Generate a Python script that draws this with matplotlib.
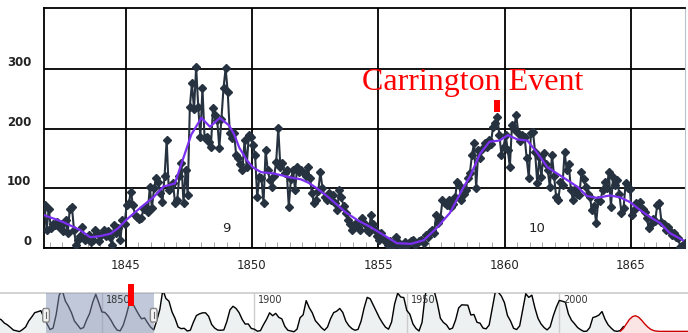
import numpy as np
import matplotlib.pyplot as plt
from matplotlib.patches import FancyBboxPatch

# monthly sunspot numbers, Oct 1841 .. Feb 1867
start_year = 1841
start_month = 10
monthly = (
    [72, 30, 66]
    + [33, 40, 38, 44, 35, 40, 28, 47, 25, 66, 69, 30]        # 1842
    + [5, 13, 20, 35, 13, 18, 22, 10, 14, 30, 25, 12]         # 1843
    + [22, 30, 20, 28, 18, 5, 38, 25, 34, 13, 47, 40]         # 1844
    + [72, 75, 94, 72, 55, 52, 48, 50, 66, 69, 60, 102]       # 1845
    + [67, 100, 117, 110, 92, 77, 120, 181, 97, 104, 109, 75]  # 1846
    + [80, 120, 142, 75, 130, 89, 236, 276, 232, 303, 236, 186]  # 1847
    + [268, 184, 186, 178, 169, 234, 223, 214, 168, 216, 268, 301]  # 1848
    + [261, 192, 184, 193, 156, 150, 140, 131, 181, 136, 189, 186]  # 1849
    + [172, 156, 85, 119, 117, 75, 164, 130, 114, 102, 120, 144]  # 1850
    + [201, 136, 142, 125, 130, 69, 115, 131, 97, 136, 128, 130]  # 1851
    + [125, 120, 135, 118, 92, 75, 80, 96, 127, 100, 85, 80]    # 1852
    + [92, 80, 88, 75, 64, 97, 85, 70, 59, 47, 40, 30]          # 1853
    + [38, 42, 36, 30, 50, 40, 30, 26, 55, 40, 30, 20]          # 1854
    + [13, 25, 15, 10, 5, 12, 2, 8, 18, 10, 4, 3]               # 1855
    + [10, 5, 8, 12, 13, 5, 8, 12, 14, 8, 22, 18]               # 1856
    + [27, 30, 25, 55, 42, 50, 80, 75, 72, 80, 69, 74]          # 1857
    + [85, 110, 105, 80, 90, 97, 117, 125, 156, 176, 100, 164]  # 1858
    + [150, 165, 176, 170, 181, 175, 203, 209, 220, 190, 156, 170]  # 1859
    + [189, 164, 136, 206, 200, 223, 193, 180, 189, 186, 150, 117]  # 1860
    + [193, 194, 160, 109, 152, 119, 159, 140, 130, 102, 156, 120]  # 1861
    + [85, 80, 110, 105, 161, 130, 140, 97, 80, 98, 90, 88]     # 1862
    + [127, 115, 102, 90, 85, 64, 70, 42, 80, 78, 97, 110]      # 1863
    + [100, 127, 69, 119, 105, 114, 90, 59, 67, 109, 100, 98]   # 1864
    + [55, 64, 75, 70, 77, 65, 60, 50, 33, 40, 48, 45]          # 1865
    + [72, 75, 44, 40, 30, 35, 28, 22, 25, 18, 16, 2]           # 1866
    + [5, 8]                                                    # 1867
)

# 13-month smoothed curve
smooth_years = [1841.77, 1842.5, 1843.2, 1843.6, 1844.0, 1844.4, 1844.7, 1845.05,
                1845.6, 1846.1, 1846.5, 1846.95, 1847.2, 1847.6, 1848.0, 1848.34,
                1848.73, 1849.1, 1849.3, 1849.5, 1849.8, 1850.04, 1850.36, 1850.83,
                1851.15, 1851.55, 1851.94, 1852.25, 1852.57, 1852.97, 1853.3, 1853.7,
                1854.2, 1854.7, 1855.2, 1855.74, 1856.3, 1856.8, 1857.3, 1857.84,
                1858.35, 1858.63, 1859.03, 1859.4, 1859.8, 1860.13, 1860.5, 1860.9,
                1861.28, 1861.7, 1862.07, 1862.47, 1862.9, 1863.26, 1863.65, 1864.17,
                1864.56, 1864.96, 1865.35, 1865.75, 1866.15, 1866.54, 1867.06]
smooth_vals = [55, 44, 30, 18, 20, 24, 33, 48,
               68, 85, 103, 108, 140, 190, 218, 203,
               218, 205, 190, 168, 147, 135, 127, 125,
               122, 118, 115, 109, 100, 87, 75, 60,
               46, 35, 22, 8, 7, 13, 33, 59,
               100, 120, 158, 178, 180, 189, 182, 180,
               160, 135, 125, 114, 102, 87, 84, 88,
               85, 77, 64, 52, 42, 25, 13]

cycle_labels = ['9', '10']
cycle_pos = [(1849.0, 33), (1861.3, 33)]
carrington_year = 1859.7
event_label = 'Carrington Event'

# yearly values for the navigator strip
nav_first_year = 1816
nav_yearly = [76, 68, 50, 40, 26, 11, 7, 3, 14, 28,
              61, 83, 107, 112, 118, 80, 46, 14, 22, 95,
              203, 231, 172, 143, 108, 61, 40, 18, 25, 67,
              103, 164, 208, 161, 111, 108, 90, 65, 34, 11,
              7, 38, 92, 157, 160, 129, 99, 73, 78, 51,
              27, 12, 63, 124, 232, 185, 170, 111, 75, 28,
              19, 21, 6, 10, 54, 91, 100, 106, 106, 87,
              42, 22, 11, 10, 12, 59, 122, 142, 130, 107,
              70, 44, 45, 20, 16, 5, 8, 41, 70, 106,
              90, 103, 81, 73, 31, 10, 6, 2, 16, 79,
              95, 173, 134, 106, 63, 44, 24, 10, 28, 74,
              107, 115, 130, 108, 60, 35, 19, 10, 15, 60,
              133, 191, 183, 148, 113, 79, 51, 27, 16, 55,
              155, 214, 193, 190, 119, 98, 45, 20, 6, 54,
              200, 269, 261, 225, 159, 76, 53, 40, 15, 22,
              67, 133, 150, 149, 148, 94, 97, 54, 49, 22,
              18, 39, 131, 220, 219, 198, 162, 91, 61, 21,
              14, 34, 123, 211, 191, 203, 133, 76, 45, 25,
              12, 29, 88, 136, 174, 170, 164, 99, 65, 46,
              25, 13, 4, 5, 25, 80, 85, 94, 113, 70,
              40, 22, 7, 4, 9, 30]
forecast_first_year = 2020
forecast = [5, 20, 45, 70, 85, 90, 82, 65, 45, 28, 15, 8, 5, 4, 4, 4, 4, 4, 4, 4, 4, 4, 4]
nav_ticks = [1850, 1900, 1950, 2000]
window = (1831.7, 1867.0)

# ---------------------------------------------------------------
plt.rcParams['font.family'] = ['DejaVu Sans']
fig = plt.figure(figsize=(6.88, 3.33), dpi=100)

W, H = 688.0, 333.0
ax = fig.add_axes([44 / W, 1 - 248 / H, (685 - 44) / W, 240 / H])

t = start_year + (start_month - 1 + np.arange(len(monthly)) + 0.5) / 12.0
ax.plot(t, monthly, color='#26323f', lw=1.5, marker='D', ms=3.8, zorder=3)
ax.plot(smooth_years, smooth_vals, color='#7b2ff0', lw=1.6, zorder=4)

ax.set_xlim(1841.77, 1867.14)
ax.set_ylim(0, 402)
ax.set_yticks([0, 100, 200, 300])
ax.set_xticks([1845, 1850, 1855, 1860, 1865])
ax.set_xticks(np.arange(1842, 1867.1, 0.5), minor=True)
ax.grid(True, which='major', color='black', lw=1.3)
ax.tick_params(axis='both', which='major', length=0, labelsize=8.5, colors='#222222')
ax.tick_params(axis='x', which='major', pad=8)
ax.tick_params(axis='y', which='major', pad=9)
ax.tick_params(axis='x', which='minor', direction='in', length=4, color='#999999')
for lab in ax.get_yticklabels():
    lab.set_verticalalignment('bottom')
    lab.set_fontweight('bold')
for side in ['left', 'top', 'bottom']:
    ax.spines[side].set_color('black')
    ax.spines[side].set_linewidth(1.3)
ax.spines['right'].set_color('#b8c2cc')

for lab, (cx, cy) in zip(cycle_labels, cycle_pos):
    ax.text(cx, cy, lab, ha='center', va='center', fontsize=9.5, color='#222222')

ax.text(1854.35, 265, event_label, family='Liberation Serif', fontsize=23,
        color='#ff0000', ha='left', va='baseline')
ax.plot([carrington_year], [238], marker='|', ms=8.6, mew=4.3, color='#ff0000', zorder=5)

# ---------------------------------------------------------------
nav = fig.add_axes([0, 0, 1, 40 / H])
ny = np.arange(nav_first_year, nav_first_year + len(nav_yearly))
fy = np.arange(forecast_first_year, forecast_first_year + len(forecast))
nav.fill_between(ny, nav_yearly, -5, color='#eef1f1', zorder=1)
nav.plot(ny, nav_yearly, color='black', lw=1.0, zorder=3)
nav.fill_between(fy, forecast, -5, color='#fbe4e4', zorder=1)
nav.plot(fy, forecast, color='#cc0000', lw=1.0, zorder=3)
nav.set_xlim(1816.6, 2042.2)
nav.set_ylim(-5, 215)
for yr in nav_ticks:
    nav.axvline(yr, color='#cccccc', lw=1, zorder=2)
    nav.text(yr + 1.2, 205, str(yr), fontsize=7, color='#333333', va='top', ha='left', zorder=6)
nav.axvspan(window[0], window[1], color='#8592b4', alpha=0.5, zorder=4, lw=0)
for wx in window:
    nav.add_patch(FancyBboxPatch((wx - 1.1, 55), 2.2, 75,
                                 boxstyle='round,pad=0,rounding_size=0.5',
                                 fc='#f4f4f4', ec='#888888', lw=1, zorder=6,
                                 mutation_aspect=30))
    nav.plot([wx, wx], [75, 110], color='#666666', lw=0.8, zorder=7)
nav.plot([carrington_year], [205], marker='|', ms=15.8, mew=4.3, color='#ff0000',
         zorder=8, clip_on=False)
nav.set_xticks([])
nav.set_yticks([])
for side in ['left', 'right', 'bottom']:
    nav.spines[side].set_visible(False)
nav.spines['top'].set_color('#cccccc')
nav.spines['top'].set_linewidth(1.2)

fig.savefig('out.png', dpi=100)
